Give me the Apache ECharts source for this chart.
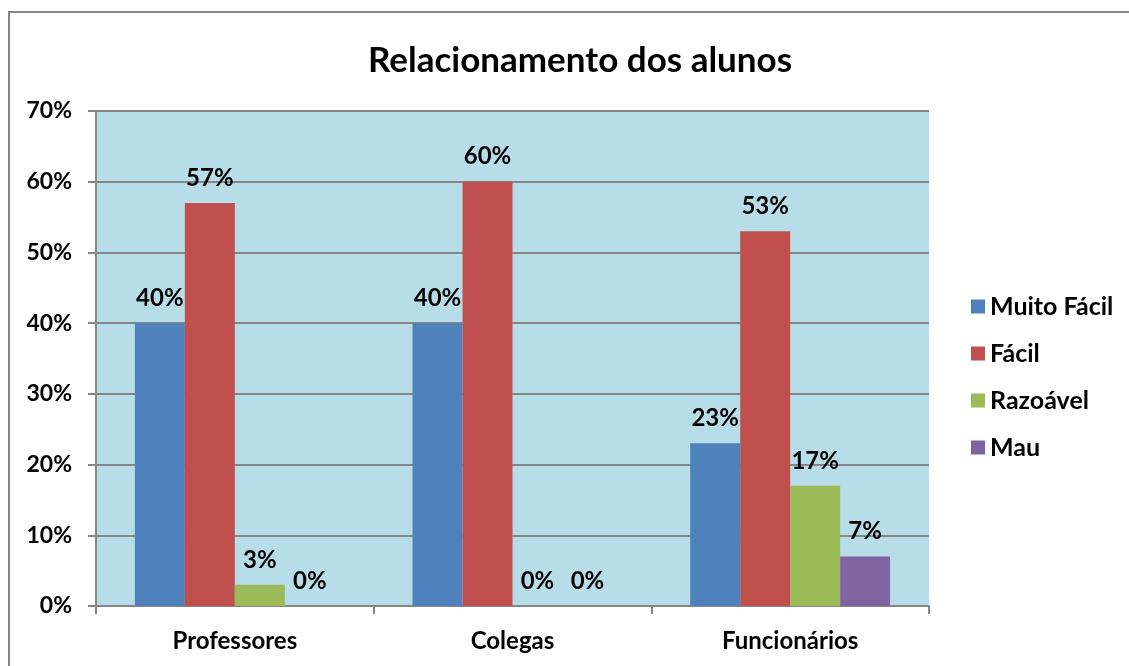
<!DOCTYPE html>
<html>
<head>
<meta charset="utf-8">
<script src="https://cdn.jsdelivr.net/npm/echarts@6/dist/echarts.min.js"></script>
<style>
  html, body { margin: 0; padding: 0; background: #fff; }
  #chart { width: 1129px; height: 666px; }
</style>
</head>
<body>
<div id="chart"></div>
<script>
const categories = ["Professores", "Colegas", "Funcionários"];
const muitoFacil = [40, 40, 23];
const facil = [57, 60, 53];
const razoavel = [3, 0, 17];
const mau = [0, 0, 7];
const yTicks = [0, 10, 20, 30, 40, 50, 60, 70];

const font = "Lato, 'Open Sans', sans-serif";
const chart = echarts.init(document.getElementById("chart"));

function barSeries(name, data, color) {
  return {
    name: name,
    type: "bar",
    data: data,
    barGap: "0%",
    barCategoryGap: "28%",
    itemStyle: { color: color },
    label: {
      show: true,
      position: "top",
      distance: 13,
      formatter: "{c}%",
      color: "#000",
      fontFamily: font,
      fontWeight: "bold",
      fontSize: 24
    }
  };
}

const option = {
  backgroundColor: "#fff",
  animation: false,
  title: {
    text: "Relacionamento dos alunos",
    left: 575,
    top: 38,
    textAlign: "center",
    textStyle: { fontFamily: font, fontWeight: "bold", fontSize: 35, color: "#000" }
  },
  graphic: [{
    type: "rect",
    shape: { x: 9, y: 12, width: 1300, height: 800 },
    style: { fill: "none", stroke: "#868686", lineWidth: 2 },
    silent: true
  }],
  legend: {
    orient: "vertical",
    left: 966,
    top: 289,
    itemWidth: 14,
    itemHeight: 14,
    itemGap: 22,
    icon: "rect",
    textStyle: { fontFamily: font, fontWeight: "bold", fontSize: 25, color: "#000" }
  },
  grid: {
    left: 96,
    right: 200,
    top: 111,
    bottom: 60,
    show: true,
    backgroundColor: "#b7dee8",
    borderWidth: 0,
    containLabel: false
  },
  xAxis: {
    type: "category",
    data: categories,
    axisLine: { lineStyle: { color: "#868686", width: 2 } },
    axisTick: { show: true, length: 8, lineStyle: { color: "#868686", width: 2 } },
    axisLabel: {
      margin: 23,
      color: "#000",
      fontFamily: font,
      fontWeight: "bold",
      fontSize: 24
    }
  },
  yAxis: {
    type: "value",
    min: yTicks[0],
    max: yTicks[yTicks.length - 1],
    interval: 10,
    axisLine: { show: true, lineStyle: { color: "#868686", width: 2 } },
    axisTick: { show: true, length: 8, lineStyle: { color: "#868686", width: 2 } },
    splitLine: { show: true, lineStyle: { color: "#868686", width: 2 } },
    axisLabel: {
      margin: 24,
      formatter: "{value}%",
      color: "#000",
      fontFamily: font,
      fontWeight: "bold",
      fontSize: 23
    }
  },
  series: [
    barSeries("Muito Fácil", muitoFacil, "#4f81bd"),
    barSeries("Fácil", facil, "#c0504d"),
    barSeries("Razoável", razoavel, "#9bbb59"),
    barSeries("Mau", mau, "#8064a2")
  ]
};

chart.setOption(option);
</script>
</body>
</html>
